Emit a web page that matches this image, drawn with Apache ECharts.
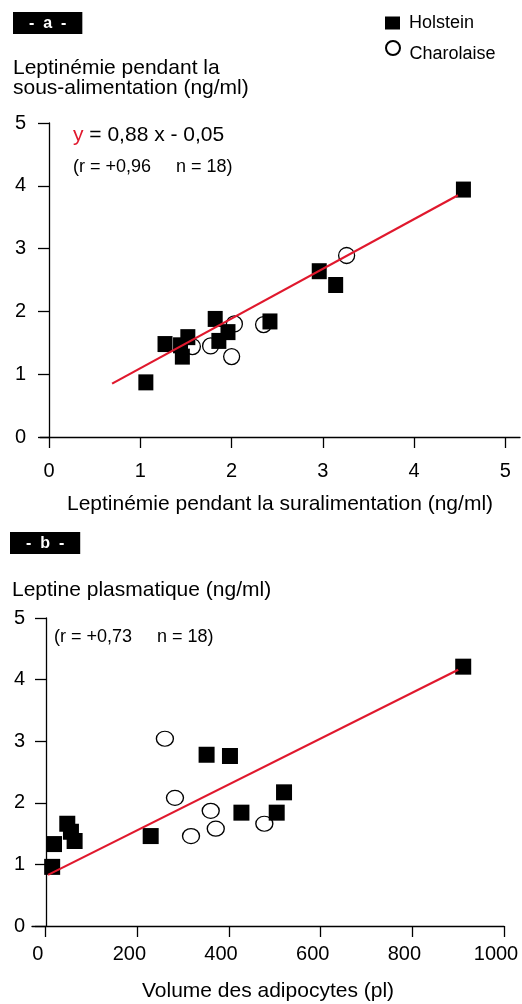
<!DOCTYPE html>
<html>
<head>
<meta charset="utf-8">
<script src="https://cdn.jsdelivr.net/npm/echarts@6/dist/echarts.min.js"></script>
<style>
  html, body { margin: 0; padding: 0; background: #fff; }
  #chart { width: 522px; height: 1004px; }
</style>
</head>
<body>
<div id="chart"></div>
<script>
// panel a : leptinemie sous-alimentation vs suralimentation
const holsteinAx = [4.54, 2.96, 3.14, 2.42, 1.82, 1.96, 1.86, 1.52, 1.27, 1.44, 1.46, 1.06]
const holsteinAy = [3.94, 2.64, 2.42, 1.84, 1.88, 1.67, 1.53, 1.59, 1.48, 1.46, 1.28, 0.87]
const charolaiseAx = [3.26, 2.03, 2.35, 1.57, 1.77, 2.0]
const charolaiseAy = [2.89, 1.8, 1.79, 1.44, 1.45, 1.28]
const lineAx = [0.69, 4.48]
const lineAy = [0.85, 3.85]
const ticksA = [0, 1, 2, 3, 4, 5]

// panel b : leptine plasmatique vs volume des adipocytes
const holsteinBx = [911, 351, 402, 520, 427, 504, 229, 47, 55, 63, 18, 14]
const holsteinBy = [4.21, 2.78, 2.76, 2.17, 1.84, 1.84, 1.46, 1.66, 1.53, 1.38, 1.33, 0.96]
const charolaiseBx = [260, 282, 360, 371, 317, 477]
const charolaiseBy = [3.04, 2.08, 1.87, 1.58, 1.46, 1.66]
const lineBx = [5, 900]
const lineBy = [0.83, 4.16]
const ticksB = [0, 200, 400, 600, 800, 1000]

const zip = (xs, ys) => xs.map((x, i) => [x, ys[i]])

const font = 'Liberation Sans, Arial, sans-serif'
const red = '#e0182d'
const axisLine = { onZero: false, lineStyle: { color: '#000', width: 1.3 } }
const axisTick = { length: 11, lineStyle: { color: '#000', width: 1.3 } }

const xAxisBase = {
  type: 'value',
  axisLine: axisLine,
  splitLine: { show: false },
  nameLocation: 'middle',
  nameTextStyle: { fontFamily: font, fontSize: 21, color: '#000' },
}

const yAxisBase = {
  type: 'value',
  min: 0,
  max: 5,
  interval: 1,
  axisLine: axisLine,
  axisTick: axisTick,
  splitLine: { show: false },
}

const chart = echarts.init(document.getElementById('chart'))

const option = {
  animation: false,
  backgroundColor: '#fff',
  textStyle: { fontFamily: font },
  title: [
    {
      text: '-  a  -',
      left: 13,
      top: 12,
      padding: [3, 16, 2, 16],
      backgroundColor: '#000',
      textStyle: { color: '#fff', fontWeight: 'bold', fontSize: 16, lineHeight: 17, fontFamily: font },
    },
    {
      text: '-  b  -',
      left: 10,
      top: 532,
      padding: [3, 16, 2, 16],
      backgroundColor: '#000',
      textStyle: { color: '#fff', fontWeight: 'bold', fontSize: 16, lineHeight: 17, fontFamily: font },
    },
  ],
  legend: [
    {
      data: [{ name: 'Holstein', icon: 'rect' }],
      left: 385,
      top: 14,
      padding: 0,
      itemWidth: 15,
      itemHeight: 13,
      selectedMode: false,
      formatter: '{t|{name}}',
      textStyle: {
        fontFamily: font,
        fontSize: 18,
        color: '#000',
        rich: { t: { fontFamily: font, fontSize: 18, color: '#000', padding: [0, 0, 0, 4] } },
      },
    },
    {
      data: [{ name: 'Charolaise', icon: 'circle' }],
      left: 385,
      top: 40,
      padding: 0,
      itemWidth: 15,
      itemHeight: 14,
      selectedMode: false,
      formatter: '{t|{name}}',
      textStyle: {
        fontFamily: font,
        fontSize: 18,
        color: '#000',
        rich: { t: { fontFamily: font, fontSize: 18, color: '#000', padding: [12, 0, 0, 4] } },
      },
    },
  ],
  graphic: [
    {
      type: 'text',
      left: 13,
      top: 58,
      style: {
        text: 'Leptinémie pendant la\nsous-alimentation (ng/ml)',
        font: '21px ' + font,
        lineHeight: 20,
        fill: '#000',
      },
    },
    {
      type: 'text',
      left: 73,
      top: 125,
      style: {
        text: '{r|y} = 0,88 x - 0,05',
        font: '21px ' + font,
        fill: '#000',
        rich: { r: { fill: red, font: '21px ' + font } },
      },
    },
    {
      type: 'text',
      left: 73,
      top: 158,
      style: { text: '(r = +0,96     n = 18)', font: '18px ' + font, fill: '#000' },
    },
    {
      type: 'text',
      left: 12,
      top: 580,
      style: { text: 'Leptine plasmatique (ng/ml)', font: '21px ' + font, fill: '#000' },
    },
    {
      type: 'text',
      left: 54,
      top: 628,
      style: { text: '(r = +0,73     n = 18)', font: '18px ' + font, fill: '#000' },
    },
  ],
  grid: [
    { left: 40, right: 2, top: 123, bottom: 567, containLabel: false, outerBoundsMode: 'none' },
    { left: 32, right: 18, top: 618, bottom: 78, containLabel: false, outerBoundsMode: 'none' },
  ],
  xAxis: [
    {
      ...xAxisBase,
      gridIndex: 0,
      min: -0.1,
      max: 5.16,
      name: 'Leptinémie pendant la suralimentation (ng/ml)',
      nameGap: 57,
      axisTick: { ...axisTick, customValues: ticksA },
      axisLabel: { customValues: ticksA, margin: 24, fontSize: 20, color: '#000', fontFamily: font },
    },
    {
      ...xAxisBase,
      gridIndex: 1,
      min: -30,
      max: 1000,
      name: 'Volume des adipocytes (pl)',
      nameGap: 55,
      axisTick: { ...axisTick, customValues: ticksB },
      axisLabel: {
        customValues: ticksB,
        formatter: (v) => String(v),
        margin: 18,
        fontSize: 20,
        color: '#000',
        fontFamily: font,
        padding: [0, 16, 0, 0],
      },
    },
  ],
  yAxis: [
    {
      ...yAxisBase,
      gridIndex: 0,
      offset: -9,
      axisLabel: { margin: 23, fontSize: 20, color: '#000', fontFamily: font },
    },
    {
      ...yAxisBase,
      gridIndex: 1,
      offset: -14,
      axisLabel: { margin: 21, fontSize: 20, color: '#000', fontFamily: font },
    },
  ],
  series: [
    // a
    {
      type: 'line',
      xAxisIndex: 0,
      yAxisIndex: 0,
      data: zip(lineAx, lineAy),
      symbol: 'none',
      silent: true,
      lineStyle: { color: red, width: 2.2 },
    },
    {
      name: 'Charolaise',
      type: 'scatter',
      xAxisIndex: 0,
      yAxisIndex: 0,
      data: zip(charolaiseAx, charolaiseAy),
      symbol: 'circle',
      symbolSize: 16,
      itemStyle: { color: '#fff', borderColor: '#000', borderWidth: 1.3, opacity: 1 },
    },
    {
      name: 'Holstein',
      type: 'scatter',
      xAxisIndex: 0,
      yAxisIndex: 0,
      data: zip(holsteinAx, holsteinAy),
      symbol: 'rect',
      symbolSize: [15, 16],
      itemStyle: { color: '#000', opacity: 1 },
    },
    // b
    {
      type: 'line',
      xAxisIndex: 1,
      yAxisIndex: 1,
      data: zip(lineBx, lineBy),
      symbol: 'none',
      silent: true,
      lineStyle: { color: red, width: 2.2 },
    },
    {
      name: 'Charolaise',
      type: 'scatter',
      xAxisIndex: 1,
      yAxisIndex: 1,
      data: zip(charolaiseBx, charolaiseBy),
      symbol: 'circle',
      symbolSize: [17, 15],
      itemStyle: { color: '#fff', borderColor: '#000', borderWidth: 1.3, opacity: 1 },
    },
    {
      name: 'Holstein',
      type: 'scatter',
      xAxisIndex: 1,
      yAxisIndex: 1,
      data: zip(holsteinBx, holsteinBy),
      symbol: 'rect',
      symbolSize: 16,
      itemStyle: { color: '#000', opacity: 1 },
    },
  ],
}

chart.setOption(option)
</script>
</body>
</html>
